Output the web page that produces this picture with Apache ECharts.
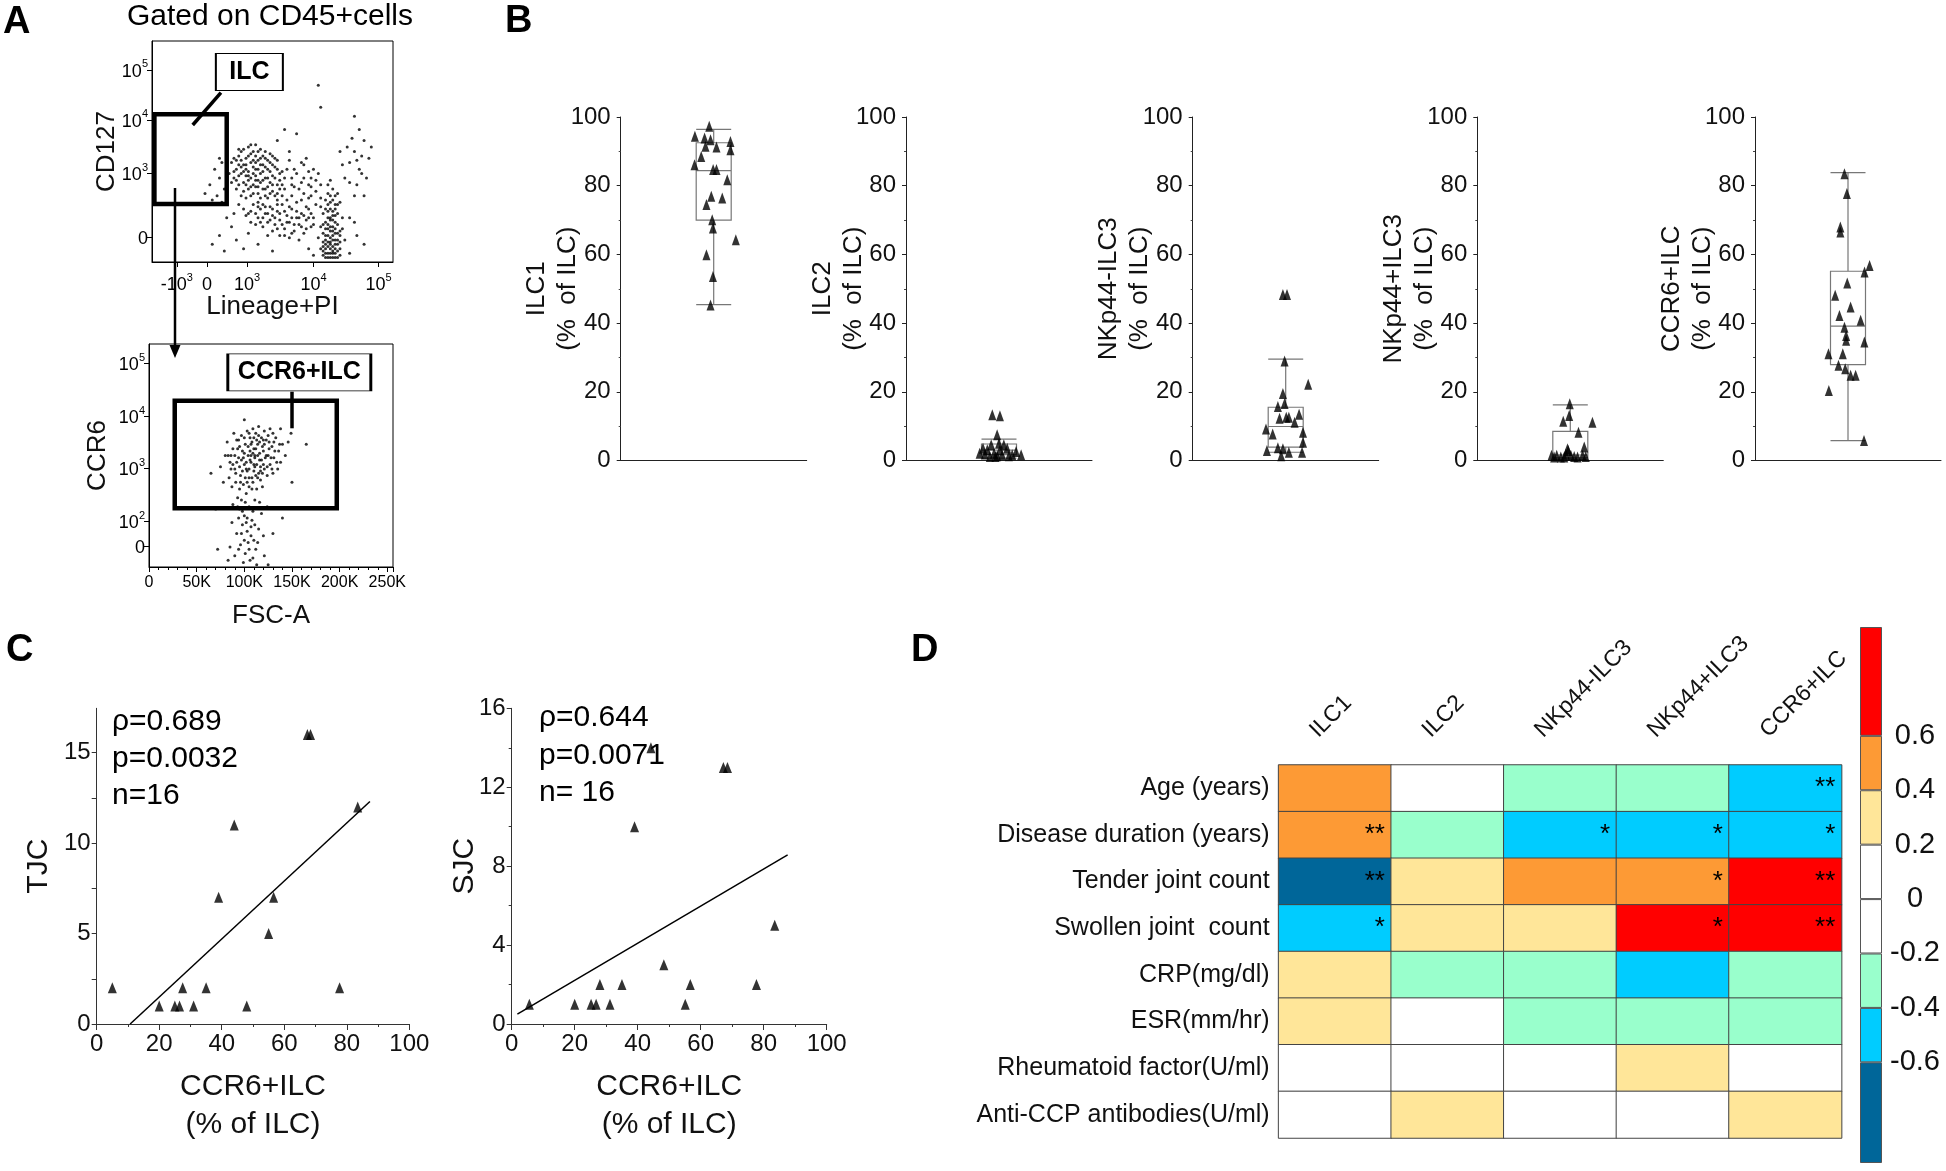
<!DOCTYPE html>
<html>
<head>
<meta charset="utf-8">
<script src="https://cdn.jsdelivr.net/npm/echarts@6/dist/echarts.min.js"></script>
<style>
  html, body { margin: 0; padding: 0; background: #fff; }
  #main { width: 1946px; height: 1171px; }
</style>
</head>
<body>
<div id="main"></div>
<script>
var FONT = '"Liberation Sans", Arial, sans-serif';

// ---- A: flow plots (display units of the biexponential axes, 0-100) ----
var lineageTicks = [10.3, 22.8, 39.4, 67.0, 94.0];
var lineageTickText = ['-10^3', '0', '10^3', '10^4', '10^5'];
var cd127Ticks = [11.4, 40.1, 64.3, 86.9];
var cd127TickText = ['0', '10^3', '10^4', '10^5'];
var ccr6Ticks = [9.3, 20.5, 44.4, 67.5, 91.4];
var ccr6TickText = ['0', '10^2', '10^3', '10^4', '10^5'];

// CD45+ events, lineage+PI (x) vs CD127 (y)
var lineageCells = [
  [33,45],[35,42],[36,48],[37,40],[38,44],[38,36],[39,47],[40,41],[40,33],[41,45],[41,38],[42,50],[42,35],[43,42],[43,39],
  [44,46],[44,31],[45,40],[45,36],[46,44],[46,48],[47,38],[47,33],[48,42],[48,29],[49,36],[49,45],[50,39],[50,32],[51,43],
  [52,35],[52,28],[53,40],[34,38],[36,35],[37,30],[39,29],[40,52],[43,53],[38,51],[35,33],[33,36],[32,40],[44,27],[46,26],
  [41,30],[45,51],[47,47],[49,49],[51,47],[36,44],[39,39],[42,43],[44,37],[46,41],[48,34],[37,46],[40,37],[43,34],[45,44],
  [34,41],[35,46],[36,39],[37,43],[37,50],[38,41],[39,35],[39,44],[40,48],[40,39],[41,34],[41,49],[42,40],[42,46],[42,31],
  [43,37],[43,48],[44,42],[44,34],[45,47],[45,29],[46,37],[46,33],[47,43],[47,50],[48,38],[48,46],[49,31],[49,41],[50,44],
  [50,35],[51,38],[51,30],[52,42],[52,46],[53,33],[53,37],[54,41],[54,35],[55,38],[34,47],[36,51],[38,32],[41,53],[44,50],
  [47,30],[50,48],[35,37],[39,42],[43,45],
  [38,24],[40,22],[42,26],[44,20],[45,24],[47,22],[48,18],[49,25],[50,21],[51,17],[52,23],[53,19],[54,26],[55,15],[56,21],
  [57,18],[58,24],[59,14],[60,20],[61,17],[62,22],[63,13],[64,19],[56,28],[58,30],[60,27],[54,30],[52,31],[62,28],[65,24],
  [66,16],[50,14],[46,16],[43,17],[41,18],[57,11],[61,10],[55,33],[59,34],[63,31],[36,26],[34,22],[53,12],[48,12],[65,29],
  [39,21],[41,23],[43,22],[44,25],[46,20],[47,25],[48,22],[49,19],[50,24],[51,20],[52,26],[53,22],[54,17],[55,23],[56,18],
  [57,25],[58,20],[59,17],[60,23],[61,20],[62,16],[63,21],[64,15],[65,20],[66,22],[67,17],[52,15],[55,12],[58,13],[45,18],
  [71,3],[72,6],[73,2],[74,8],[75,4],[76,10],[77,5],[78,3],[72,12],[73,15],[74,11],[75,14],[76,18],[77,13],[71,9],
  [78,9],[73,20],[74,24],[75,19],[76,26],[72,28],[77,22],[74,30],[75,33],[73,35],[70,16],[79,15],[71,22],[78,27],[76,6],
  [74,4],[72,2],[75,7],[73,9],[77,17],[76,21],[72,18],[74,16],[75,12],[76,2],[78,6],[70,6],[71,13],[73,26],[77,31],
  [74,37],[79,20],[80,10],[69,11],[70,25],
  [71,5],[72,8],[73,4],[74,6],[75,2],[76,4],[77,8],[78,12],[72,10],[73,12],[74,14],[75,10],[76,13],[77,10],[73,7],
  [74,2],[75,16],[76,15],[72,15],[71,17],[74,20],[75,23],[76,24],[73,23],[77,26],[74,27],[72,24],[75,28],[73,31],[76,30],
  [74,19],[71,7],[78,14],[77,2],[75,5],[73,17],[76,8],[72,4],[74,9],[75,21],
  [80,38],[82,45],[84,50],[86,42],[83,56],[85,35],[87,48],[88,55],[81,52],[79,44],[89,38],[86,60],[90,47],[84,30],[82,36],
  [78,50],[88,30],[91,52],[85,46],[87,40],
  [60,40],[63,44],[66,38],[68,32],[65,35],[62,36],[67,42],[58,38],[64,47],[69,40],[56,42],[70,35],[66,30],[68,26],[64,25],[67,20],
  [58,35],[61,33],[63,38],[65,41],[59,42],[62,45],[57,46],[66,34],[68,37],[70,29],
  [24,35],[26,42],[27,30],[28,38],[29,45],[30,33],[25,28],[29,27],[31,40],[22,31],[28,47],
  [28,12],[33,16],[30,5],[25,8],[35,10],[38,6],[44,8],[50,5],[65,6],[67,3],[82,20],[85,12],[88,8],[57,50],[60,58],
  [52,55],[70,70],[69,80],[55,60],[84,66],[82,4],[84,18],[40,13],[31,20]
];
// ILC events, FSC-A in K (x) vs CCR6 (y)
var ccr6Cells = [
  [80,50],[85,47],[88,53],[90,44],[92,57],[94,49],[96,41],[98,52],[100,46],[101,55],[103,43],[104,50],[106,58],[107,47],[108,40],
  [110,53],[111,45],[112,60],[114,50],[115,42],[116,56],[118,48],[120,52],[121,44],[123,57],[125,50],[127,46],[129,54],[131,49],[133,58],
  [136,52],[138,47],[140,55],[84,40],[87,36],[91,38],[95,35],[99,37],[102,33],[105,36],[109,38],[113,35],[117,39],[97,59],[103,61],
  [109,62],[115,63],[121,61],[127,62],[75,45],[78,38],[82,56],[89,60],[93,31],[101,29],[119,36],[124,41],[130,42],[135,44],[143,50],
  [146,56],[99,49],[105,44],[111,50],[117,45],[95,54],[107,55],[113,57],[119,54],[125,59],[92,47],[86,50],[130,60],[138,62],[149,60],
  [101,40],[106,52],[110,46],[122,49],[126,53],
  [88,46],[90,50],[93,53],[95,45],[97,48],[98,43],[100,51],[102,47],[104,54],[105,40],[107,50],[108,56],[110,43],[111,49],[112,53],
  [113,46],[114,55],[116,51],[117,43],[118,58],[120,46],[121,55],[123,50],[124,45],[126,56],[128,49],[129,44],[132,52],[134,47],[137,55],
  [100,58],[105,60],[110,58],[115,59],[120,57],[96,38],[103,38],[108,35],[114,40],[119,42],[91,42],[86,44],[83,50],[94,57],[131,56],
  [102,44],[106,48],[109,51],[112,41],[116,48],
  [95,26],[100,23],[105,27],[98,19],[103,16],[108,21],[110,12],[96,10],[101,6],[106,3],[112,8],[115,17],[118,24],[92,15],[90,5],
  [104,11],[99,2],[113,1],[120,14],[87,20],[85,9],[124,27],[109,25],[97,30],[121,5],[93,27],[116,29],[102,20],[107,14],[94,22],
  [83,3],[125,1],[72,8],[70,26],[130,15],[140,22],[88,28],[111,30],
  [98,25],[103,22],[107,18],[100,12],[105,8],[109,4],[97,15],[94,8],[111,19],[114,11],
  [165,55],[100,66],[65,42],[150,38]
];
var ilcGate = [[1, 66.8], [31, 26.2]];
var ilcPointer = [[28.6, 76.6], [16.9, 62.0]];
var ilcLabelAt = [40.4, 86];
var ccr6Gate = [[27, 74.6], [197, 26.4]];
var ccr6Pointer = [[149.8, 78.6], [149.8, 62.2]];
var ccr6LabelAt = [157.7, 87.3];

// ---- B: frequencies (% of ILC); x = horizontal jitter (0-100, box at 50) ----
var bNames = ['ILC1', 'ILC2', 'NKp44-ILC3', 'NKp44+ILC3', 'CCR6+ILC'];
var bBoxes = [
  [45.4, 70.0, 84.4, 92.5, 96.4],
  [0.7, 1.7, 3.0, 4.8, 6.2],
  [2.4, 3.9, 9.9, 15.5, 29.5],
  [0.3, 0.8, 1.6, 8.5, 16.2],
  [5.8, 27.9, 39.1, 55.1, 83.8]
];
var ilc1Pts = [[39.9,94.4],[47.6,97.3],[45.1,93.9],[48.3,93.4],[45.6,91.5],[51.5,91.3],[59,92.9],[59,90.5],[43.3,88.5],[39.7,86.1],
  [49.7,84.7],[51.5,84.7],[57.3,81.7],[48.7,76.9],[54.6,76.4],[46.1,74.5],[49.2,70.1],[49.6,67.7],[61.9,64.3],[46.1,59.9],[49.6,53.6],[48.3,45.3]];
var ilc2Pts = [[46.4,13.3],[50.5,13],[49,7.5],[41.4,3.6],[39.6,2.1],[43.7,3.1],[45.8,4.6],[47.3,2.1],[50.5,3.1],[51.7,1.7],[54.4,3.6],
  [57.1,1.7],[59.2,2.6],[61.9,1.7],[49,1.4],[48.1,1.2],[42.4,1.9],[52.6,4.6],[55.3,1.4],[45.1,1.2],[50,5.0]];
var nkNegPts = [[48.5,48.3],[50.7,48.3],[49.4,29],[62.1,22.2],[48.5,19.5],[49.4,16.6],[45.8,15.7],[57.2,13.5],[46.7,12.3],[50.3,12.6],
  [51.7,12.6],[54.8,11.1],[39.4,9.2],[59.3,8.2],[43,7.7],[59.3,5.3],[45.8,3.7],[48.5,3.4],[51.7,2.4],[39.9,2.9],[58.8,2.4],[47.6,1.4]];
var nkPosPts = [[49.7,16.5],[49.4,13.1],[46.2,11.4],[61.9,11.1],[54.4,8.2],[57.5,3.9],[48.5,3.4],[39.9,1.5],[42.7,1.5],[44.9,1.0],
  [47.6,1.9],[48.9,2.9],[50.3,1.5],[52.1,1.2],[56.6,1.5],[58.3,1.2],[46.7,1.0],[41.3,1.0],[53.9,1.0]];
var ccr6Pts = [[48.1,83.5],[49.4,77.7],[45.9,68],[45.9,66.5],[61.6,56.8],[58.9,54.9],[49.6,51.7],[43.1,48.1],[51.4,44.7],[45.4,42.2],
  [56.8,40.8],[48.1,38.8],[49,36.4],[49,35],[58.8,34.5],[39.5,31.1],[47.2,31.1],[44.9,27.7],[48.5,26.7],[51.4,24.8],[54.1,24.8],
  [39.7,20.4],[58.6,5.8]];
var bPts = [ilc1Pts, ilc2Pts, nkNegPts, nkPosPts, ccr6Pts];
var bLefts = [620.7, 906, 1192.7, 1477.3, 1755];

// ---- C: correlations with CCR6+ILC ----
var tjcPts = [[5,2],[20,1],[25,1],[26.5,1],[27.5,2],[31,1],[35,2],[39,7],[44,11],[48,1],[55,5],[56.6,7],[67.4,16],[68.4,16],[77.7,2],[83.5,12]];
var tjcFit = [[10.7, 0], [87.4, 12.3]];
var sjcPts = [[5.6,1],[20,1],[25.2,1],[26.8,1],[28,2],[31.2,1],[35,2],[39,10],[44.2,14],[48.3,3],[55.1,1],[56.7,2],[67.2,13],[68.5,13],[77.7,2],[83.5,5]];
var sjcFit = [[1.8, 0.5], [87.6, 8.57]];
var tjcStats = 'ρ=0.689\np=0.0032\nn=16';
var sjcStats = 'ρ=0.644\np=0.0071\nn= 16';

// ---- D: Spearman rho heat map ----
var dRows = ['Age (years)', 'Disease duration (years)', 'Tender joint count', 'Swollen joint  count',
  'CRP(mg/dl)', 'ESR(mm/hr)', 'Rheumatoid factor(U/ml)', 'Anti-CCP antibodies(U/ml)'];
var dCols = ['ILC1', 'ILC2', 'NKp44-ILC3', 'NKp44+ILC3', 'CCR6+ILC'];
var dRho = [
  [0.5, 0.1, -0.3, -0.3, -0.5],
  [0.5, -0.3, -0.5, -0.5, -0.5],
  [-0.7, 0.3, 0.5, 0.5, 0.7],
  [-0.5, 0.3, 0.3, 0.7, 0.7],
  [0.3, -0.3, -0.3, -0.5, -0.3],
  [0.3, 0.1, -0.3, -0.3, -0.3],
  [0.1, 0.05, 0.1, 0.3, 0.1],
  [0.1, 0.3, 0.1, 0.05, 0.3]
];
var dStars = [
  ['', '', '', '', '**'],
  ['**', '', '*', '*', '*'],
  ['**', '', '', '*', '**'],
  ['*', '', '', '*', '**'],
  ['', '', '', '', ''],
  ['', '', '', '', ''],
  ['', '', '', '', ''],
  ['', '', '', '', '']
];
var keyColors = ['#FFFFFF', '#FFE699', '#FD9A35', '#FF0000', '#FFFFFF', '#99FFCC', '#00CCFF', '#006699'];
var keySpans = [0.2, 0.2, 0.2, 0.4, -0.2, -0.2, -0.2, -0.37];
var keyTicks = [-0.6, -0.4, -0.2, 0, 0.2, 0.4, 0.6];

// ---------------------------------------------------------------
function supLabel(ticks, texts) {
  return function (v) {
    var i = ticks.findIndex(function (t) { return Math.abs(t - v) < 0.01; });
    var t = texts[i] || '';
    var m = t.split('^');
    return m.length > 1 ? '{b|' + m[0] + '}{s|' + m[1] + '}' : '{b|' + t + '}';
  };
}
var supRich = {
  b: { fontSize: 18, fontFamily: FONT, color: '#000', lineHeight: 22, verticalAlign: 'bottom' },
  s: { fontSize: 11, fontFamily: FONT, color: '#000', lineHeight: 22, verticalAlign: 'top' }
};
var axisName = function (size, lh) {
  return { fontSize: size, fontFamily: FONT, color: '#111', lineHeight: lh || size };
};

var grids = [
  { left: 152, top: 41, width: 241, height: 221, show: true, borderColor: '#000', borderWidth: 1 },
  { left: 149, top: 344, width: 244, height: 223, show: true, borderColor: '#000', borderWidth: 1 }
];
bLefts.forEach(function (l) { grids.push({ left: l, top: 117, width: 186, height: 343.5 }); });
grids.push({ left: 96.7, top: 708.3, width: 312.6, height: 315.7 });
grids.push({ left: 511.7, top: 708.3, width: 315, height: 315.7 });
grids.push({ left: 1278.6, top: 765, width: 563, height: 373 });
grids.push({ left: 1860, top: 627, width: 22, height: 536 });
grids.forEach(function (g) { g.outerBoundsMode = 'none'; });

var blackLine = { show: true, lineStyle: { color: '#000', width: 1 } };
var xAxes = [], yAxes = [], series = [];

// A1
xAxes.push({ gridIndex: 0, type: 'value', min: 0, max: 100, axisLine: blackLine, splitLine: { show: false },
  axisTick: { customValues: lineageTicks, length: 5, lineStyle: { color: '#000' } },
  axisLabel: { customValues: lineageTicks, formatter: supLabel(lineageTicks, lineageTickText), rich: supRich, margin: 10 },
  name: 'Lineage+PI', nameLocation: 'middle', nameGap: 32, nameMoveOverlap: false, nameTextStyle: axisName(26) });
yAxes.push({ gridIndex: 0, type: 'value', min: 0, max: 100, axisLine: blackLine, splitLine: { show: false },
  axisTick: { show: true, customValues: cd127Ticks, length: 5, lineStyle: { color: '#000' } },
  axisLabel: { customValues: cd127Ticks, formatter: supLabel(cd127Ticks, cd127TickText), rich: supRich, margin: 4 },
  name: 'CD127', nameLocation: 'middle', nameGap: 32, nameMoveOverlap: false, nameTextStyle: axisName(26) });
// A2
xAxes.push({ gridIndex: 1, type: 'value', min: 0, max: 256, interval: 50, axisLine: blackLine, splitLine: { show: false },
  axisTick: { length: 5, lineStyle: { color: '#000' } }, minorTick: { show: true, splitNumber: 5, length: 3, lineStyle: { color: '#000' } },
  axisLabel: { fontSize: 16, fontFamily: FONT, color: '#000', margin: 8, formatter: function (v) { return v === 0 ? '0' : v + 'K'; } },
  name: 'FSC-A', nameLocation: 'middle', nameGap: 36, nameMoveOverlap: false, nameTextStyle: axisName(26) });
yAxes.push({ gridIndex: 1, type: 'value', min: 0, max: 100, axisLine: blackLine, splitLine: { show: false },
  axisTick: { show: true, customValues: ccr6Ticks, length: 5, lineStyle: { color: '#000' } },
  axisLabel: { customValues: ccr6Ticks, formatter: supLabel(ccr6Ticks, ccr6TickText), rich: supRich, margin: 4 },
  name: 'CCR6', nameLocation: 'middle', nameGap: 38, nameMoveOverlap: false, nameTextStyle: axisName(26) });

function flowMarks(gate, pointer, labelAt, labelText, boxSize) {
  return {
    markArea: { silent: true, itemStyle: { color: 'rgba(0,0,0,0)', borderColor: '#000', borderWidth: 4.5 },
      data: [[{ coord: gate[0] }, { coord: gate[1] }]] },
    markLine: { silent: true, symbol: ['none', 'none'], label: { show: false }, lineStyle: { color: '#000', width: 3.5, type: 'solid' },
      data: [[{ coord: pointer[0] }, { coord: pointer[1] }]] },
    markPoint: { silent: true, data: [{ coord: labelAt, symbol: 'rect', symbolSize: boxSize,
      itemStyle: { color: '#fff', borderColor: '#000', borderWidth: 1.5 },
      label: { show: true, position: 'inside', formatter: labelText, fontSize: 25, fontWeight: 'bold', fontFamily: FONT, color: '#000' } }] }
  };
}
series.push(Object.assign({ type: 'scatter', xAxisIndex: 0, yAxisIndex: 0, data: lineageCells, symbolSize: 3,
  itemStyle: { color: '#000' }, silent: true }, flowMarks(ilcGate, ilcPointer, ilcLabelAt, 'ILC', [67, 37])));
series.push(Object.assign({ type: 'scatter', xAxisIndex: 1, yAxisIndex: 1, data: ccr6Cells, symbolSize: 3,
  itemStyle: { color: '#000' }, silent: true }, flowMarks(ccr6Gate, ccr6Pointer, ccr6LabelAt, 'CCR6+ILC', [143, 37])));

// B: category axes for the boxes, hidden value axes for the jittered points
bNames.forEach(function (n, i) {
  xAxes.push({ gridIndex: 2 + i, type: 'category', data: [n], axisLine: { show: true, lineStyle: { color: '#222' } },
    axisTick: { show: false }, axisLabel: { show: false } });
});
bNames.forEach(function (n, i) {
  xAxes.push({ gridIndex: 2 + i, type: 'value', min: 0, max: 100, show: false });
});
bNames.forEach(function (n, i) {
  yAxes.push({ gridIndex: 2 + i, type: 'value', min: 0, max: 100, interval: 20,
    axisLine: { show: true, lineStyle: { color: '#222' } }, axisTick: { show: true, length: 4, lineStyle: { color: '#222' } },
    minorTick: { show: true, splitNumber: 2, length: 2, lineStyle: { color: '#444' } },
    splitLine: { show: false }, axisLabel: { fontSize: 24, fontFamily: FONT, color: '#111', margin: 10 },
    name: n + '\n(%  of ILC)', nameLocation: 'middle', nameGap: 37, nameMoveOverlap: false, nameTextStyle: axisName(26, 31) });
  series.push({ type: 'boxplot', xAxisIndex: 2 + i, yAxisIndex: 2 + i, data: [bBoxes[i]], boxWidth: [35, 35],
    itemStyle: { color: 'rgba(0,0,0,0)', borderColor: '#777', borderWidth: 1.2 } });
  series.push({ type: 'scatter', xAxisIndex: 7 + i, yAxisIndex: 2 + i, data: bPts[i], symbol: 'triangle',
    symbolSize: [8, 11], itemStyle: { color: '#000' } });
});

// C
function cX(grid) {
  return { gridIndex: grid, type: 'value', min: 0, max: 100, interval: 20, axisLine: { show: true, lineStyle: { color: '#333' } },
    axisTick: { length: 6, lineStyle: { color: '#333' } }, minorTick: { show: true, splitNumber: 2, length: 3, lineStyle: { color: '#333' } },
    splitLine: { show: false }, axisLabel: { fontSize: 24, fontFamily: FONT, color: '#111', margin: 8 },
    name: 'CCR6+ILC\n(% of ILC)', nameLocation: 'middle', nameGap: 44, nameMoveOverlap: false, nameTextStyle: axisName(30, 38) };
}
xAxes.push(cX(7));
xAxes.push(cX(8));
yAxes.push({ gridIndex: 7, type: 'value', min: 0, max: 17.45, axisLine: { show: true, lineStyle: { color: '#333' } },
  axisTick: { show: true, customValues: [0, 2.5, 5, 7.5, 10, 12.5, 15], length: 5, lineStyle: { color: '#333' } },
  splitLine: { show: false }, axisLabel: { customValues: [0, 5, 10, 15], fontSize: 24, fontFamily: FONT, color: '#111', margin: 6 },
  name: 'TJC', nameLocation: 'middle', nameGap: 43, nameMoveOverlap: false, nameTextStyle: axisName(30) });
yAxes.push({ gridIndex: 8, type: 'value', min: 0, max: 16, interval: 4, axisLine: { show: true, lineStyle: { color: '#333' } },
  axisTick: { show: true, length: 5, lineStyle: { color: '#333' } }, minorTick: { show: true, splitNumber: 2, length: 3, lineStyle: { color: '#333' } },
  splitLine: { show: false }, axisLabel: { fontSize: 24, fontFamily: FONT, color: '#111', margin: 6 },
  name: 'SJC', nameLocation: 'middle', nameGap: 32, nameMoveOverlap: false, nameTextStyle: axisName(30) });
[[tjcPts, tjcFit], [sjcPts, sjcFit]].forEach(function (pair, k) {
  series.push({ type: 'scatter', xAxisIndex: 12 + k, yAxisIndex: 7 + k, data: pair[0], symbol: 'triangle',
    symbolSize: [9, 11], itemStyle: { color: '#000' }, z: 3 });
  series.push({ type: 'line', xAxisIndex: 12 + k, yAxisIndex: 7 + k, data: pair[1], symbol: 'none',
    lineStyle: { color: '#000', width: 1.5 } });
});

// D
xAxes.push({ gridIndex: 9, type: 'category', position: 'top', data: dCols, axisLine: { show: false }, axisTick: { show: false },
  axisLabel: { interval: 0, rotate: -45, fontSize: 23, fontFamily: FONT, color: '#111', margin: 10,
    verticalAlign: 'bottom', lineHeight: 60 } });
yAxes.push({ gridIndex: 9, type: 'category', inverse: true, data: dRows, axisLine: { show: false }, axisTick: { show: false },
  axisLabel: { interval: 0, fontSize: 25, fontFamily: FONT, color: '#111', margin: 9 } });
var dCells = [];
dRho.forEach(function (row, r) { row.forEach(function (v, c) { dCells.push([c, r, v]); }); });
var heatIndex = series.length;
series.push({ type: 'heatmap', xAxisIndex: 14, yAxisIndex: 9, data: dCells,
  itemStyle: { borderColor: '#444', borderWidth: 1 },
  label: { show: true, position: 'insideRight', distance: 7, fontSize: 26, fontFamily: FONT, color: '#000',
    formatter: function (p) { return dStars[p.value[1]][p.value[0]]; } } });

// colour key
xAxes.push({ gridIndex: 10, type: 'category', data: ['rho'], show: false });
yAxes.push({ gridIndex: 10, type: 'value', min: -0.97, max: 1.0, position: 'right', axisLine: { show: false },
  axisTick: { show: false }, splitLine: { show: false },
  axisLabel: { customValues: keyTicks, fontSize: 29, fontFamily: FONT, color: '#111', margin: 33, align: 'center', verticalAlign: 'middle',
    formatter: function (v) { return v === 0 ? '0' : v.toFixed(1); } } });
keySpans.forEach(function (s, k) {
  series.push({ type: 'bar', xAxisIndex: 15, yAxisIndex: 10, stack: 'key', barWidth: 22, data: [s], silent: true,
    itemStyle: { color: keyColors[k], borderColor: '#555', borderWidth: 1 } });
});

var txt = function (size, weight) {
  return { fontSize: size, fontFamily: FONT, fontWeight: weight || 'normal', fill: '#000' };
};
var graphics = [
  { type: 'text', left: 3, top: 4, style: Object.assign({ text: 'A' }, txt(38, 'bold')) },
  { type: 'text', left: 127, top: 2, style: Object.assign({ text: 'Gated on CD45+cells' }, txt(30)) },
  { type: 'text', left: 505, top: 3, style: Object.assign({ text: 'B' }, txt(38, 'bold')) },
  { type: 'text', left: 6, top: 632, style: Object.assign({ text: 'C' }, txt(38, 'bold')) },
  { type: 'text', left: 911, top: 632, style: Object.assign({ text: 'D' }, txt(38, 'bold')) },
  { type: 'line', shape: { x1: 175, y1: 188, x2: 175, y2: 348 }, style: { stroke: '#000', lineWidth: 2.5 } },
  { type: 'polygon', shape: { points: [[169.5, 345], [180.5, 345], [175, 358]] }, style: { fill: '#000' } },
  { type: 'text', left: 112, top: 703, style: Object.assign({ text: tjcStats, lineHeight: 37 }, txt(30)) },
  { type: 'text', left: 539, top: 699, style: Object.assign({ text: sjcStats, lineHeight: 37.5 }, txt(30)) }
];

var option = {
  animation: false,
  backgroundColor: '#fff',
  textStyle: { fontFamily: FONT },
  grid: grids,
  xAxis: xAxes,
  yAxis: yAxes,
  visualMap: {
    type: 'piecewise', show: false, seriesIndex: heatIndex, dimension: 2,
    pieces: [
      { min: 0.6, color: '#FF0000' },
      { min: 0.4, max: 0.6, color: '#FD9A35' },
      { min: 0.2, max: 0.4, color: '#FFE699' },
      { min: -0.2, max: 0.2, color: '#FFFFFF' },
      { min: -0.4, max: -0.2, color: '#99FFCC' },
      { min: -0.6, max: -0.4, color: '#00CCFF' },
      { max: -0.6, color: '#006699' }
    ]
  },
  graphic: graphics,
  series: series
};

var myChart = echarts.init(document.getElementById('main'));
myChart.setOption(option);
</script>
</body>
</html>
